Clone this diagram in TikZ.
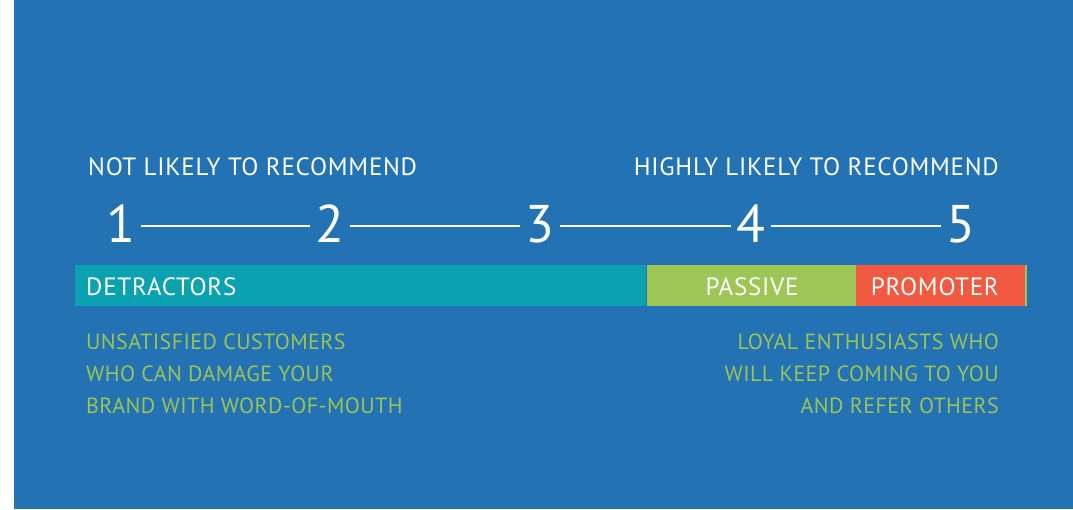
\documentclass[tikz,border=0pt]{standalone}
\usepackage{fontspec}
\setmainfont{PT Sans}
\newfontfamily\headfont[LetterSpace=3]{PT Sans}
\newfontfamily\notefont[LetterSpace=2]{PT Sans}
\usetikzlibrary{positioning}

\definecolor{npsblue}{HTML}{2272B4}
\definecolor{npsteal}{HTML}{0AA2B0}
\definecolor{npsgreen}{HTML}{9DC656}
\definecolor{npsred}{HTML}{F15A40}
\definecolor{npstext}{HTML}{9CC356}

\begin{document}
\begin{tikzpicture}[
    x=1pt, y=1pt,
    heading/.style={text=white, font=\headfont\fontsize{25}{25}\selectfont, inner sep=0pt},
    score/.style={text=white, font=\fontsize{53}{53}\selectfont, inner sep=0pt},
    segment/.style={draw=none, inner sep=0pt, minimum height=41pt, anchor=south west},
    seglabel/.style={text=white, font=\headfont\fontsize{25}{25}\selectfont, inner sep=0pt},
    note/.style={text=npstext, font=\notefont\fontsize{22}{32}\selectfont, inner sep=0pt},
    link/.style={draw=white, line width=2pt, shorten <=5pt, shorten >=5pt}
]

% Background
\useasboundingbox (0,0) rectangle (1073,509);
\fill[npsblue] (14,0) rectangle (1073,509);

% Headings
\node[heading, anchor=base west] (low) at (88,333) {NOT LIKELY TO RECOMMEND};
\node[heading, anchor=base east] (high) at (999,333) {HIGHLY LIKELY TO RECOMMEND};

% Scale
\node[score] (n1) at (121,285) {1};
\node[score] (n2) at (330,285) {2};
\node[score] (n3) at (540,285) {3};
\node[score] (n4) at (751,285) {4};
\node[score] (n5) at (961,285) {5};

\draw[link] (n1.east |- 0,283) -- (n2.west |- 0,283);
\draw[link] (n2.east |- 0,283) -- (n3.west |- 0,283);
\draw[link] (n3.east |- 0,283) -- (n4.west |- 0,283);
\draw[link] (n4.east |- 0,283) -- (n5.west |- 0,283);

% Bar
\node[segment, fill=npsteal, minimum width=571pt] (detr) at (75,203) {};
\node[segment, fill=npsgreen, minimum width=209pt, right=0pt of detr] (pass) {};
\node[segment, fill=npsred, minimum width=169pt, right=0pt of pass] (prom) {};
\fill[npsgreen] (prom.south east) rectangle ([xshift=1.5pt]prom.north east);

\node[seglabel, anchor=base west] (detrlabel) at (86,213) {DETRACTORS};
\node[seglabel, anchor=base] (passlabel) at (752,213) {PASSIVE};
\node[seglabel, anchor=base east] (promlabel) at (999,213) {PROMOTER};

% Notes
\node[note, anchor=base west] (lowa) at (86,160) {UNSATISFIED CUSTOMERS};
\node[note, anchor=base west] (lowb) at (86,128) {WHO CAN DAMAGE YOUR};
\node[note, anchor=base west] (lowc) at (86,96) {BRAND WITH WORD-OF-MOUTH};

\node[note, anchor=base east] (higha) at (999,160) {LOYAL ENTHUSIASTS WHO};
\node[note, anchor=base east] (highb) at (999,128) {WILL KEEP COMING TO YOU};
\node[note, anchor=base east] (highc) at (999,96) {AND REFER OTHERS};

\end{tikzpicture}
\end{document}
